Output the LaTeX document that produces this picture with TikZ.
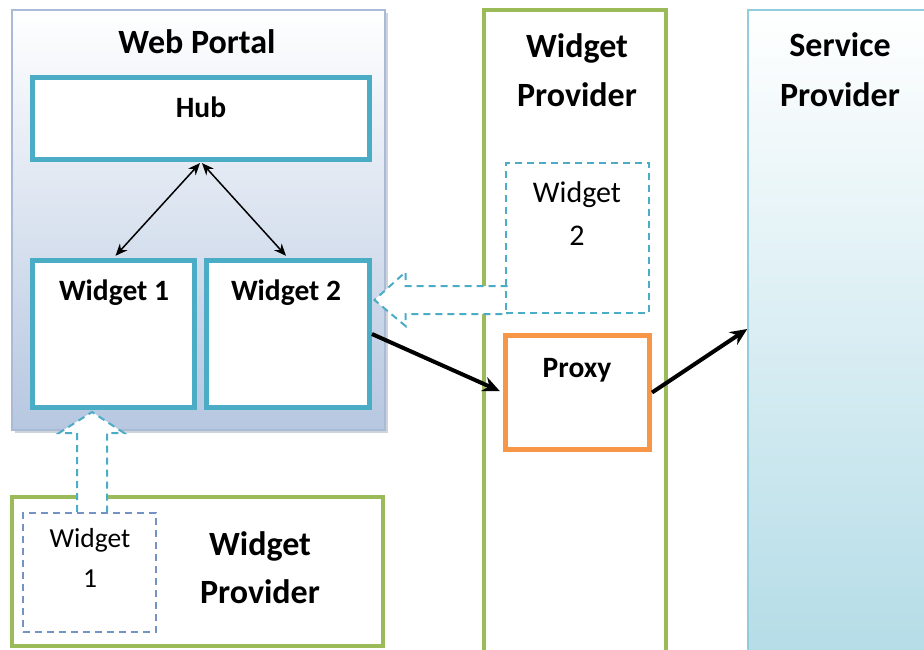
\documentclass[tikz,border=0pt]{standalone}
\usepackage{fontspec}
\setmainfont{Carlito}
\usetikzlibrary{calc,shadows,arrows.meta}
\definecolor{wteal}{HTML}{4BACC6}
\definecolor{wgreen}{HTML}{9BBB59}
\definecolor{worange}{HTML}{F79646}
\definecolor{wpedge}{HTML}{A9BBD6}
\definecolor{wpfill}{HTML}{B6C7E0}
\definecolor{spedge}{HTML}{93CDDD}
\definecolor{spfill}{HTML}{B4DCE7}
\definecolor{wdash}{HTML}{7393C4}
\begin{document}
\begin{tikzpicture}[x=1pt,y=-1pt,
  box/.style={draw, rectangle, inner sep=0pt},
  portal/.style={box, draw=wpedge, line width=1.5pt, top color=white, bottom color=wpfill,
    drop shadow={shadow xshift=2.5pt, shadow yshift=-2.5pt, opacity=0.35, fill=wpedge!70!black}},
  tealbox/.style={box, draw=wteal, line width=5pt, fill=white},
  provider/.style={box, draw=wgreen, line width=4pt, fill=white},
  service/.style={box, draw=spedge, line width=1.5pt, top color=white, bottom color=spfill},
  proxybox/.style={box, draw=worange, line width=5pt, fill=white},
  dashbox/.style={box, dashed, dash pattern=on 7pt off 5pt, line width=2pt},
  blockarrow/.style={draw=wteal, fill=white, line width=2pt, dash pattern=on 7pt off 5pt},
  title/.style={anchor=base, font=\fontsize{34}{40}\selectfont\bfseries},
  boxtitle/.style={anchor=base, font=\fontsize{29.5}{36}\selectfont\bfseries},
  plain/.style={anchor=base, font=\fontsize{30}{36}\selectfont},
  hubarrow/.style={line width=1.5pt, {Stealth[length=12pt,width=10pt]}-{Stealth[length=12pt,width=10pt]}},
  flow/.style={line width=4pt, -{Stealth[length=17pt,width=15pt]}}
]
\useasboundingbox (0,0) rectangle (924,649);
\clip (0,0) rectangle (924,649);

% Web portal with its hub and two widgets
\node[portal, minimum width=373pt, minimum height=420pt] (portal) at (198.5,220) {};
\node[title] (portalT) at (197,53) {Web Portal};
\node[tealbox, minimum width=337pt, minimum height=82pt] (hub) at (201,118.5) {};
\node[boxtitle] (hubT) at (201,117) {Hub};
\node[tealbox, minimum width=162pt, minimum height=147pt] (w1) at (113.5,334) {};
\node[boxtitle] (w1T) at (114,300) {Widget 1};
\node[tealbox, minimum width=163pt, minimum height=147pt] (w2) at (288,334) {};
\node[boxtitle] (w2T) at (286,300) {Widget 2};

\draw[hubarrow, shorten <=1.5pt, shorten >=3pt] (hub.south) -- (w1.north);
\draw[hubarrow, shorten <=1.5pt, shorten >=3pt] (hub.south) -- (w2.north);

% Lower widget provider
\node[provider, minimum width=371pt, minimum height=149pt] (prov1) at (197.5,571.5) {};
\node[title] (prov1Ta) at (260,555) {Widget};
\node[title] (prov1Tb) at (260,603) {Provider};

% Widget 1 delivered upwards into the portal
\node[dashbox, draw=wdash, minimum width=133pt, minimum height=119pt] (w1d) at (89.5,572.5) {};
\coordinate (tip1) at ($(w1d.north west)+(70,-100)$);
\draw[blockarrow] ($(tip1)+(-15,100)$) -- ($(tip1)+(-15,21)$) -- ($(tip1)+(-33,21)$) -- (tip1)
  -- ($(tip1)+(32,21)$) -- ($(tip1)+(15,21)$) -- ($(tip1)+(15,100)$);
\node[dashbox, draw=wdash, minimum width=133pt, minimum height=119pt] at (w1d) {};
\node[plain, font=\fontsize{27.5}{33}\selectfont] (w1dTa) at (90,547) {Widget};
\node[plain, font=\fontsize{27.5}{33}\selectfont] (w1dTb) at (90,587) {1};

% Middle widget provider
\node[provider, minimum width=182pt, minimum height=650pt] (prov2) at (575,335) {};
\node[title] (prov2Ta) at (577,57) {Widget};
\node[title] (prov2Tb) at (577,106) {Provider};

% Widget 2 delivered leftwards into the portal
\node[dashbox, draw=wteal, minimum width=143pt, minimum height=150pt] (w2d) at (577.5,238) {};
\coordinate (tip2) at ($(w2.east |- w2d.south)+(2.5,-14)$);
\draw[blockarrow] ($(tip2)+(133,-14)$) -- ($(tip2)+(31,-14)$) -- ($(tip2)+(31,-28)$) -- (tip2)
  -- ($(tip2)+(31,26)$) -- ($(tip2)+(31,14)$) -- ($(tip2)+(133,14)$);
\node[dashbox, draw=wteal, minimum width=143pt, minimum height=150pt] at (w2d) {};
\node[plain] (w2dTa) at (577,202) {Widget};
\node[plain] (w2dTb) at (577,245) {2};

\node[proxybox, minimum width=144pt, minimum height=114pt] (proxy) at (577.5,392.5) {};
\node[boxtitle] (proxyT) at (577,377) {Proxy};

% Service provider
\node[service, minimum width=182pt, minimum height=650pt] (sp) at (839,335) {};
\node[title] (spTa) at (840,56) {Service};
\node[title] (spTb) at (840,106) {Provider};

% Calls through the proxy
\draw[flow, shorten >=3.5pt] (w2.east) -- (proxy.west);
\draw[flow] (proxy.east) -- ($(sp.west)+(0,-6)$);
\end{tikzpicture}
\end{document}
